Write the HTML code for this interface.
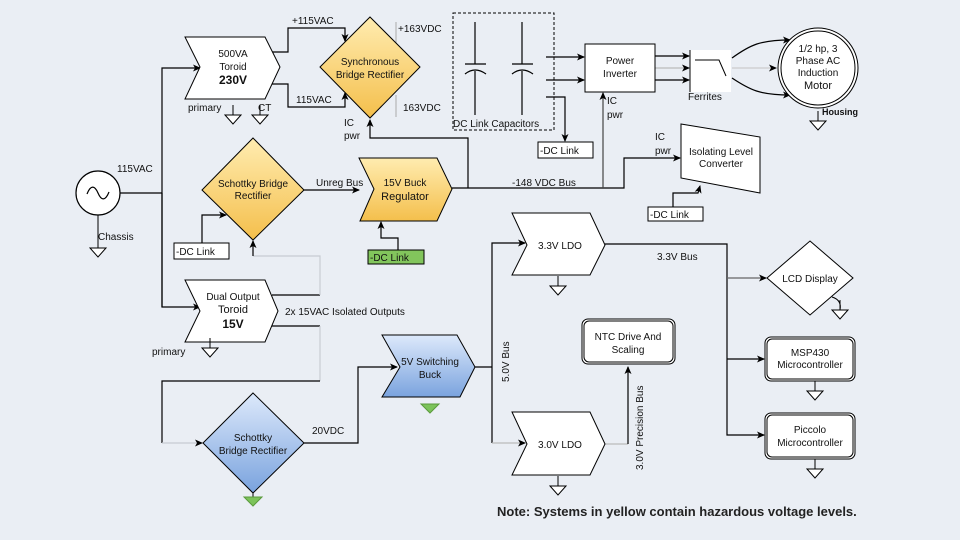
<!DOCTYPE html>
<html><head><meta charset="utf-8"><style>
html,body{margin:0;padding:0;background:#eaeef4;}
svg{display:block;font-family:"Liberation Sans",sans-serif;}
</style></head><body>
<svg width="960" height="540" viewBox="0 0 960 540" xmlns="http://www.w3.org/2000/svg">
<defs>
<linearGradient id="yl" x1="0" y1="0" x2="0" y2="1"><stop offset="0" stop-color="#ffecb0"/><stop offset="1" stop-color="#f4bf4c"/></linearGradient>
<linearGradient id="bl" x1="0" y1="0" x2="0" y2="1"><stop offset="0" stop-color="#dde9fb"/><stop offset="1" stop-color="#7aa3de"/></linearGradient>
<marker id="a" markerWidth="8" markerHeight="8" refX="7" refY="4" orient="auto" markerUnits="userSpaceOnUse"><path d="M0,0.5 L8,4 L0,7.5 L2,4 z" fill="#000"/></marker>
<g id="gnd"><line x1="0" y1="-10" x2="0" y2="0" stroke="#000"/><path d="M-8,0 L8,0 L0,9 z" fill="#fff" stroke="#000"/></g>
<g id="ggn"><path d="M-9,0 L9,0 L0,9 z" fill="#7cc35a" stroke="#5a9a3c"/></g>
</defs>
<rect width="960" height="540" fill="#eaeef4"/>
<g fill="none" stroke="#000" stroke-width="1.2">
<line x1="120" y1="193" x2="162" y2="193"/>
<polyline points="162,307 162,68 200,68" marker-end="url(#a)"/>
<polyline points="162,193 162,307 200,307" marker-end="url(#a)"/>
<polyline points="272,52 288,52 288,28 345,28 345,41" marker-end="url(#a)"/>
<polyline points="270,84 288,84 288,107 345,107 345,93" marker-end="url(#a)"/>
<polyline points="468,188 468,138 370,138 370,120" marker-end="url(#a)"/>
<line x1="304" y1="190" x2="359" y2="190" marker-end="url(#a)"/>
<polyline points="452,188 624,188 624,158 680,158" marker-end="url(#a)"/>
<line x1="603" y1="188" x2="603" y2="93" marker-end="url(#a)" stroke="#444"/>
<line x1="546" y1="57" x2="584" y2="57" marker-end="url(#a)"/>
<line x1="546" y1="80" x2="584" y2="80" marker-end="url(#a)"/>
<polyline points="546,97 565,97 565,141" marker-end="url(#a)"/>
<line x1="655" y1="56" x2="689" y2="56" marker-end="url(#a)"/>
<line x1="655" y1="68" x2="689" y2="68" marker-end="url(#a)" stroke="#bbb"/>
<line x1="655" y1="80" x2="689" y2="80" marker-end="url(#a)"/>
<path d="M732,58 C750,45 760,40 790,40" marker-end="url(#a)"/>
<line x1="732" y1="68" x2="776" y2="68" marker-end="url(#a)" stroke="#ccc"/>
<path d="M732,78 C750,90 760,95 790,95" marker-end="url(#a)"/>
<polyline points="673,207 673,193 698,193 700,186" marker-end="url(#a)"/>
<polyline points="202,243 202,215 226,215" marker-end="url(#a)"/>
<polyline points="398,250 398,238 381,238 381,222" marker-end="url(#a)"/>
<polyline points="272,295 320,295" />
<polyline points="320,295 320,256 253,256" stroke="#c8ccd2"/>
<line x1="253" y1="256" x2="253" y2="241" marker-end="url(#a)"/>
<line x1="272" y1="326" x2="320" y2="326"/>
<line x1="320" y1="326" x2="320" y2="381" stroke="#c8ccd2"/>
<polyline points="320,381 162,381 162,443" />
<line x1="162" y1="443" x2="202" y2="443" marker-end="url(#a)" stroke="#c8ccd2"/>
<polyline points="304,443 358,443 358,367 397,367" marker-end="url(#a)"/>
<line x1="475" y1="367" x2="492" y2="367"/>
<polyline points="492,443 492,243 525,243" marker-end="url(#a)"/>
<line x1="492" y1="443" x2="525" y2="443" marker-end="url(#a)" stroke="#bbb"/>
<polyline points="605,244 727,244 727,435 764,435" marker-end="url(#a)"/>
<line x1="727" y1="278" x2="766" y2="278" marker-end="url(#a)" stroke="#666"/>
<line x1="727" y1="359" x2="764" y2="359" marker-end="url(#a)"/>
<line x1="605" y1="444" x2="628" y2="444" stroke="#bbb"/>
<line x1="628" y1="444" x2="628" y2="367" marker-end="url(#a)"/>
</g>
<line x1="396" y1="22" x2="396" y2="46" stroke="#aaa"/>
<line x1="396" y1="95" x2="396" y2="117" stroke="#aaa"/>

<circle cx="98" cy="193" r="22" fill="#fff" stroke="#000" stroke-width="1.2"/>
<path d="M87,194 C91,184 95,186 98,193 C101,200 105,202 109,192" fill="none" stroke="#000" stroke-width="1.2"/>
<line x1="98" y1="215" x2="98" y2="248" stroke="#000"/>
<use href="#gnd" x="98" y="248"/>

<path d="M185,37 L265,37 L280,67 L265,99 L185,99 L200,67 z" fill="#fff" stroke="#000"/>
<use href="#gnd" x="233" y="115"/>
<use href="#gnd" x="260" y="115"/>
<path d="M370,17 L420,67 L370,118 L320,67 z" fill="url(#yl)" stroke="#000"/>
<rect x="453" y="13" width="101" height="117" fill="none" stroke="#000" stroke-dasharray="3,2"/>
<g stroke="#000" fill="none" stroke-width="1.2">
<line x1="475" y1="22" x2="475" y2="64"/><line x1="465" y1="64" x2="486" y2="64"/><path d="M465,74 Q475,66 486,74"/><line x1="475" y1="71" x2="475" y2="115"/>
<line x1="522" y1="22" x2="522" y2="64"/><line x1="512" y1="64" x2="533" y2="64"/><path d="M512,74 Q522,66 533,74"/><line x1="522" y1="71" x2="522" y2="115"/>
</g>
<rect x="538" y="142" width="55" height="16" fill="#fff" stroke="#000"/>
<rect x="585" y="44" width="70" height="48" fill="#fff" stroke="#000"/>
<rect x="690" y="50" width="41" height="42" fill="#fff" stroke="none"/>
<line x1="690" y1="50" x2="690" y2="92" stroke="#000"/>
<polyline points="695,60 719,60 726,76" fill="none" stroke="#000"/>
<circle cx="818" cy="68" r="40" fill="#fff" stroke="#000"/>
<circle cx="818" cy="68" r="37" fill="none" stroke="#000"/>
<use href="#gnd" x="818" y="121"/>
<path d="M681,124 L760,137 L760,193 L681,178 z" fill="#fff" stroke="#000"/>
<rect x="648" y="207" width="55" height="14" fill="#fff" stroke="#000"/>
<path d="M253,138 L304,190 L253,240 L202,190 z" fill="url(#yl)" stroke="#000"/>
<rect x="174" y="243" width="55" height="16" fill="#fff" stroke="#000"/>
<path d="M359,158 L437,158 L452,189 L437,221 L360,221 L374,189 z" fill="url(#yl)" stroke="#000"/>
<rect x="368" y="250" width="56" height="14" fill="#82c55c" stroke="#000"/>
<path d="M185,280 L265,280 L278,311 L265,342 L185,342 L200,311 z" fill="#fff" stroke="#000"/>
<use href="#gnd" x="210" y="348"/>
<path d="M253,393 L304,443 L253,493 L203,443 z" fill="url(#bl)" stroke="#000"/>
<line x1="253" y1="493" x2="253" y2="497" stroke="#000"/>
<use href="#ggn" x="253" y="497"/>
<path d="M382,335 L457,335 L475,367 L460,397 L382,397 L400,367 z" fill="url(#bl)" stroke="#000"/>
<use href="#ggn" x="430" y="404"/>
<path d="M512,213 L590,213 L605,245 L590,275 L512,275 L527,245 z" fill="#fff" stroke="#000"/>
<use href="#gnd" x="558" y="286"/>
<path d="M512,412 L590,412 L605,444 L590,475 L512,475 L527,444 z" fill="#fff" stroke="#000"/>
<use href="#gnd" x="558" y="486"/>
<rect x="582" y="319" width="93" height="45" rx="6" fill="#fff" stroke="#000"/>
<rect x="584" y="321" width="89" height="41" rx="5" fill="none" stroke="#000"/>
<path d="M810,241 L853,278 L810,315 L767,278 z" fill="#fff" stroke="#000"/>
<path d="M832,297 Q842,300 840,310" fill="none" stroke="#000"/>
<use href="#gnd" x="840" y="310"/>
<rect x="765" y="337" width="90" height="44" rx="6" fill="#fff" stroke="#000"/>
<rect x="767" y="339" width="86" height="40" rx="5" fill="none" stroke="#000"/>
<use href="#gnd" x="815" y="391"/>
<rect x="765" y="413" width="90" height="46" rx="6" fill="#fff" stroke="#000"/>
<rect x="767" y="415" width="86" height="42" rx="5" fill="none" stroke="#000"/>
<use href="#gnd" x="815" y="469"/>

<g font-size="10" fill="#111">
<text x="98" y="240">Chassis</text>
<text x="117" y="172">115VAC</text>
<g text-anchor="middle">
<text x="233" y="57">500VA</text><text x="233" y="70">Toroid</text>
<text x="233" y="84" font-weight="bold" font-size="12">230V</text>
<text x="370" y="65">Synchronous</text><text x="370" y="78">Bridge Rectifier</text>
<text x="620" y="64">Power</text><text x="620" y="77">Inverter</text>
<text x="818" y="52">1/2 hp, 3</text><text x="818" y="64">Phase AC</text><text x="818" y="76">Induction</text><text x="818" y="89" font-size="11">Motor</text>
<text x="721" y="155">Isolating Level</text><text x="721" y="167">Converter</text>
<text x="253" y="187">Schottky Bridge</text><text x="253" y="199">Rectifier</text>
<text x="405" y="186">15V Buck</text><text x="405" y="200" font-size="11">Regulator</text>
<text x="233" y="300">Dual Output</text><text x="233" y="313" font-size="11">Toroid</text>
<text x="233" y="328" font-weight="bold" font-size="12">15V</text>
<text x="253" y="441">Schottky</text><text x="253" y="454">Bridge Rectifier</text>
<text x="430" y="365">5V Switching</text><text x="430" y="378">Buck</text>
<text x="560" y="249">3.3V LDO</text><text x="560" y="448">3.0V LDO</text>
<text x="628" y="340">NTC Drive And</text><text x="628" y="353">Scaling</text>
<text x="810" y="282">LCD Display</text>
<text x="810" y="356">MSP430</text><text x="810" y="368">Microcontroller</text>
<text x="810" y="433">Piccolo</text><text x="810" y="446">Microcontroller</text>
</g>
<text x="292" y="24">+115VAC</text>
<text x="296" y="103">115VAC</text>
<text x="398" y="32">+163VDC</text>
<text x="403" y="111">163VDC</text>
<text x="188" y="111">primary</text>
<text x="258" y="111">CT</text>
<text x="344" y="126">IC</text><text x="344" y="139">pwr</text>
<text x="453" y="127">DC Link Capacitors</text>
<text x="540" y="154">-DC Link</text>
<text x="607" y="104">IC</text><text x="607" y="118">pwr</text>
<text x="688" y="100">Ferrites</text>
<text x="822" y="115" font-size="9" font-weight="bold">Housing</text>
<text x="655" y="140">IC</text><text x="655" y="154">pwr</text>
<text x="512" y="186">-148 VDC Bus</text>
<text x="650" y="218">-DC Link</text>
<text x="316" y="186">Unreg Bus</text>
<text x="176" y="255">-DC Link</text>
<text x="370" y="261">-DC Link</text>
<text x="285" y="315">2x 15VAC Isolated Outputs</text>
<text x="152" y="355">primary</text>
<text x="312" y="434">20VDC</text>
<text x="657" y="260">3.3V Bus</text>
<text transform="translate(509,382) rotate(-90)">5.0V Bus</text>
<text transform="translate(643,470) rotate(-90)">3.0V Precision Bus</text>
<text x="497" y="516" font-size="13" font-weight="bold" fill="#222">Note: Systems in yellow contain hazardous voltage levels.</text>
</g>
</svg>
</body></html>
